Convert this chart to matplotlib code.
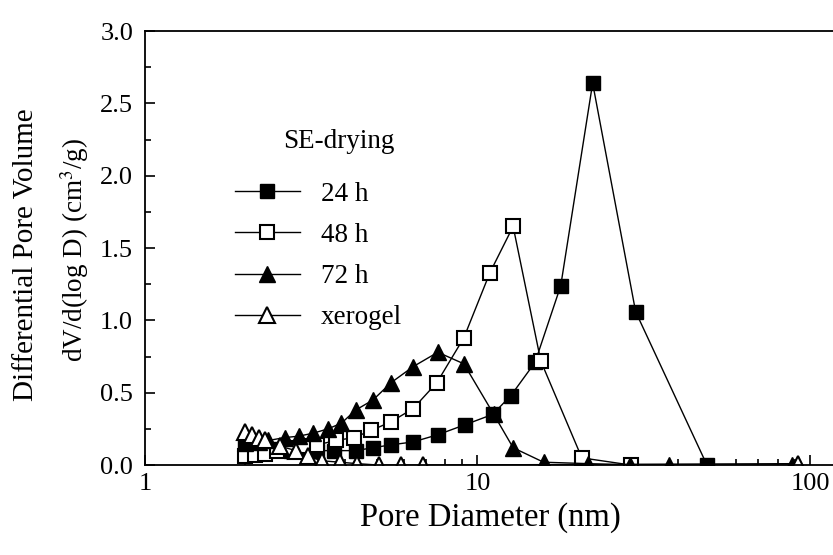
import numpy as np
import matplotlib
matplotlib.use("Agg")
import matplotlib.pyplot as plt
from matplotlib.ticker import FixedLocator, MultipleLocator, LogLocator, FuncFormatter, NullFormatter

# pore diameter (nm) and dV/d(logD) (cm3/g)
d_24 = [2.0, 2.15, 2.3, 2.5, 2.75, 3.0, 3.3, 3.7, 4.3, 4.85, 5.5, 6.4, 7.6, 9.2, 11.1, 12.6, 14.9, 17.8, 22.2, 29.9, 49.0]
v_24 = [0.13, 0.13, 0.12, 0.11, 0.10, 0.10, 0.10, 0.10, 0.10, 0.12, 0.14, 0.16, 0.21, 0.28, 0.35, 0.48, 0.71, 1.24, 2.64, 1.06, 0.0]

d_48 = [2.0, 2.15, 2.3, 2.5, 2.75, 3.0, 3.3, 3.75, 4.25, 4.8, 5.5, 6.4, 7.55, 9.1, 10.9, 12.8, 15.5, 20.6, 29.0]
v_48 = [0.06, 0.07, 0.08, 0.10, 0.12, 0.13, 0.14, 0.17, 0.19, 0.24, 0.30, 0.39, 0.57, 0.88, 1.33, 1.65, 0.72, 0.05, 0.0]

d_72 = [2.0, 2.2, 2.35, 2.63, 2.9, 3.2, 3.55, 3.9, 4.3, 4.85, 5.5, 6.4, 7.6, 9.1, 11.2, 12.8, 15.8, 21.5, 28.8, 37.6, 88.0]
v_72 = [0.15, 0.16, 0.17, 0.19, 0.20, 0.22, 0.25, 0.29, 0.38, 0.45, 0.57, 0.68, 0.78, 0.70, 0.35, 0.12, 0.02, 0.01, 0.0, 0.0, 0.0]

d_xe = [2.0, 2.1, 2.2, 2.3, 2.55, 2.85, 3.1, 3.4, 3.85, 4.35, 5.05, 5.9, 6.85, 92.0]
v_xe = [0.23, 0.21, 0.19, 0.17, 0.13, 0.10, 0.06, 0.03, 0.02, 0.01, 0.0, 0.0, 0.0, 0.01]

labels = ['24 h', '48 h', '72 h', 'xerogel']

plt.rcParams['font.family'] = ['Liberation Serif', 'DejaVu Serif']
plt.rcParams['mathtext.fontset'] = 'stix'

W, H = 833, 555
fig = plt.figure(figsize=(8.33, 5.55), dpi=100)
ax = fig.add_axes([0.174, 0.162, 0.83, 0.782])

ax.plot(d_24, v_24, color='black', lw=1, marker='s', ms=10, mfc='black', mec='black', label=labels[0])
ax.plot(d_48, v_48, color='black', lw=1, marker='s', ms=10, mfc='white', mec='black', mew=1.5, label=labels[1])
ax.plot(d_72, v_72, color='black', lw=1, marker='^', ms=11, mfc='black', mec='black', label=labels[2])
ax.plot(d_xe, v_xe, color='black', lw=1, marker='^', ms=11, mfc='white', mec='black', mew=1.5, label=labels[3])

ax.set_xscale('log')
ax.set_xlim(1, 120)
ax.set_ylim(0, 3.0)

ax.xaxis.set_major_locator(FixedLocator([1, 10, 100]))
ax.xaxis.set_major_formatter(FuncFormatter(lambda v, p: '%d' % v))
ax.xaxis.set_minor_locator(LogLocator(base=10, subs=np.arange(2, 10)))
ax.xaxis.set_minor_formatter(NullFormatter())
ax.yaxis.set_major_locator(MultipleLocator(0.5))
ax.yaxis.set_minor_locator(MultipleLocator(0.25))
ax.yaxis.set_major_formatter(FuncFormatter(lambda v, p: '%.1f' % v))

ax.tick_params(which='both', direction='in', labelsize=19, width=1.2)
ax.tick_params(which='major', length=7)
ax.tick_params(which='minor', length=4)
ax.tick_params(axis='x', pad=6)
ax.tick_params(axis='y', pad=8.5)
for s in ['left', 'bottom', 'top']:
    ax.spines[s].set_linewidth(1.3)
ax.spines['right'].set_visible(False)

ax.set_xlabel('Pore Diameter (nm)', fontsize=23.5, labelpad=5)

# two-line y label, drawn as two texts
fig.text(26 / W, 1 - 255 / H, 'Differential Pore Volume', rotation=90, fontsize=21,
         ha='center', va='center')
fig.text(75 / W, 1 - 250 / H, 'dV/d(log D) (cm$^3$/g)', rotation=90, fontsize=19.5,
         ha='center', va='center')

fig.text(283 / W, 1 - 142 / H, 'SE-drying', fontsize=19.5, ha='left', va='center')
leg = ax.legend(loc='upper left', bbox_to_anchor=(221 / W, 1 - 168 / H),
                bbox_transform=fig.transFigure, frameon=False, borderpad=0,
                fontsize=19.5, handlelength=2.4, labelspacing=0.6, handletextpad=0.8)

fig.savefig('out.png', dpi=100)
